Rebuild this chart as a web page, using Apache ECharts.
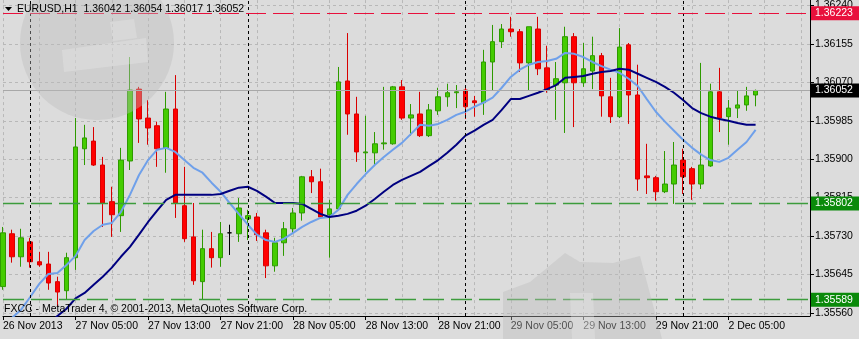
<!DOCTYPE html>
<html><head><meta charset="utf-8">
<script src="https://cdn.jsdelivr.net/npm/echarts@6/dist/echarts.min.js"></script>
<style>html,body{margin:0;padding:0;background:#dcdcdc}#c{width:859px;height:339px}</style>
</head><body><div id="c"></div>
<script>
const symbolName = 'EURUSD,H1';
const sessionDays = [['26 Nov',21,23],['27 Nov',0,23],['28 Nov',0,23],['29 Nov',0,23],['2 Dec',0,8]];
const tickLabels = ['26 Nov 2013','27 Nov 05:00','27 Nov 13:00','27 Nov 21:00','28 Nov 05:00','28 Nov 13:00',
  '28 Nov 21:00','29 Nov 05:00','29 Nov 13:00','29 Nov 21:00','2 Dec 05:00'];
const yTicks = [1.35560,1.35645,1.35730,1.35815,1.35900,1.35985,1.36070,1.36155,1.36240];

const opens = [1.35618,1.35735,1.35684,1.35717,1.35673,1.35668,1.35629,1.35609,1.35682,1.35923,
 1.35940,1.35887,1.35806,1.35775,1.35896,1.36055,1.35991,1.35974,1.35925,1.36011,
 1.35797,1.35728,1.35629,1.35702,1.35682,1.35737,1.35735,1.35768,1.35772,1.35737,
 1.35664,1.35715,1.35746,1.35781,1.35861,1.35850,1.35777,1.35790,1.36073,1.36000,
 1.35914,1.35914,1.35934,1.35934,1.36060,1.35991,1.36000,1.35952,1.36007,1.36038,
 1.36047,1.36053,1.36029,1.36025,1.36115,1.36160,1.36188,1.36182,1.36113,1.36188,
 1.36102,1.36064,1.36069,1.36171,1.36069,1.36095,1.36129,1.36038,1.35994,1.36153,
 1.36042,1.35863,1.35859,1.35828,1.35845,1.35898,1.35879,1.35845,1.35885,1.36049,
 1.35994,1.36013,1.36020,1.36042];
const closes = [1.35737,1.35684,1.35726,1.35673,1.35666,1.35626,1.35606,1.35682,1.35927,1.35947,
 1.35887,1.35803,1.35777,1.35898,1.36053,1.35989,1.35969,1.35923,1.36011,1.35803,
 1.35724,1.35631,1.35702,1.35682,1.35735,1.35737,1.35792,1.35775,1.35733,1.35664,
 1.35715,1.35746,1.35781,1.35861,1.35850,1.35772,1.35790,1.36071,1.36000,1.35916,
 1.35916,1.35934,1.35936,1.36060,1.35991,1.35998,1.35952,1.36009,1.36038,1.36047,
 1.36049,1.36016,1.36025,1.36115,1.36160,1.36188,1.36182,1.36113,1.36193,1.36100,
 1.36053,1.36078,1.36171,1.36069,1.36100,1.36129,1.36040,1.35994,1.36148,1.36042,
 1.35856,1.35859,1.35828,1.35845,1.35887,1.35861,1.35845,1.35887,1.36049,1.35991,
 1.36013,1.36020,1.36040,1.36052];
const lows = [1.35611,1.35671,1.35662,1.35660,1.35662,1.35611,1.35573,1.35589,1.35655,1.35887,
 1.35885,1.35750,1.35728,1.35739,1.35876,1.35936,1.35932,1.35883,1.35870,1.35770,
 1.35717,1.35622,1.35589,1.35660,1.35662,1.35688,1.35717,1.35721,1.35719,1.35637,
 1.35651,1.35686,1.35735,1.35764,1.35825,1.35770,1.35682,1.35788,1.35954,1.35894,
 1.35872,1.35887,1.35921,1.35932,1.35987,1.35952,1.35949,1.35949,1.35998,1.36016,
 1.36013,1.35989,1.35994,1.35998,1.36051,1.36146,1.36171,1.36093,1.36053,1.36086,
 1.36047,1.35987,1.35958,1.35971,1.36060,1.36055,1.35994,1.35980,1.35991,1.35978,
 1.35830,1.35823,1.35808,1.35825,1.35801,1.35823,1.35810,1.35834,1.35883,1.35960,
 1.35932,1.35991,1.36007,1.36017];
const highs = [1.35750,1.35744,1.35746,1.35726,1.35695,1.35695,1.35640,1.35693,1.35991,1.35976,
 1.35971,1.35905,1.35839,1.35925,1.36126,1.36060,1.36031,1.35983,1.36049,1.36086,
 1.35883,1.35803,1.35744,1.35739,1.35761,1.35755,1.35814,1.35788,1.35781,1.35744,
 1.35726,1.35761,1.35792,1.35863,1.35876,1.35879,1.35810,1.36104,1.36179,1.36038,
 1.35996,1.35960,1.36060,1.36062,1.36075,1.36022,1.36049,1.36022,1.36058,1.36067,
 1.36064,1.36064,1.36040,1.36142,1.36197,1.36199,1.36215,1.36188,1.36193,1.36215,
 1.36151,1.36115,1.36193,1.36179,1.36157,1.36171,1.36135,1.36080,1.36190,1.36157,
 1.36109,1.35934,1.35863,1.35918,1.35938,1.35923,1.35883,1.36113,1.36067,1.36102,
 1.36031,1.36053,1.36060,1.36054];
const maFast = [1.35520,1.35549,1.35567,1.35595,1.35624,1.35646,1.35648,1.35666,1.35686,1.35721,
 1.35741,1.35755,1.35759,1.35783,1.35821,1.35865,1.35898,1.35921,1.35925,1.35916,
 1.35898,1.35881,1.35870,1.35848,1.35828,1.35803,1.35779,1.35755,1.35733,1.35721,
 1.35717,1.35724,1.35737,1.35750,1.35761,1.35770,1.35772,1.35788,1.35821,1.35845,
 1.35867,1.35887,1.35905,1.35921,1.35936,1.35956,1.35976,1.35974,1.35978,1.35987,
 1.35998,1.36005,1.36016,1.36025,1.36036,1.36058,1.36082,1.36098,1.36109,1.36115,
 1.36117,1.36122,1.36135,1.36133,1.36126,1.36115,1.36106,1.36098,1.36091,1.36078,
 1.36062,1.36033,1.36005,1.35983,1.35963,1.35943,1.35925,1.35910,1.35898,1.35894,
 1.35903,1.35921,1.35938,1.35965];
const maSlow = [1.35478,1.35489,1.35500,1.35511,1.35522,1.35534,1.35553,1.35569,1.35592,1.35604,
 1.35622,1.35640,1.35660,1.35684,1.35706,1.35733,1.35761,1.35786,1.35810,1.35821,
 1.35821,1.35821,1.35821,1.35821,1.35823,1.35830,1.35837,1.35839,1.35830,1.35817,
 1.35803,1.35803,1.35803,1.35801,1.35790,1.35779,1.35772,1.35775,1.35779,1.35786,
 1.35797,1.35812,1.35828,1.35843,1.35854,1.35863,1.35872,1.35885,1.35898,1.35914,
 1.35932,1.35952,1.35963,1.35976,1.35987,1.36009,1.36033,1.36033,1.36040,1.36047,
 1.36055,1.36064,1.36080,1.36082,1.36084,1.36089,1.36093,1.36095,1.36100,1.36098,
 1.36089,1.36080,1.36071,1.36060,1.36047,1.36031,1.36013,1.36002,1.35994,1.35989,
 1.35985,1.35980,1.35976,1.35976];
const levelRed = 1.36223;
const levelsGreen = [1.35802, 1.35589];
const bidPrice = closes[closes.length - 1];
const emptyBars = 6;

// categories (hourly bars)
const cats = [];
sessionDays.forEach(([d, h0, h1]) => {
  for (let h = h0; h <= h1; h++) cats.push(d + ' ' + String(h).padStart(2, '0') + ':00');
});
for (let i = 0; i < emptyBars; i++) cats.push('pad' + i);
const separators = [];
cats.forEach((c, i) => { if (c.endsWith(' 00:00')) separators.push(i); });

const candleData = opens.map((o, i) => [o, closes[i], lows[i], highs[i]]);
const n = opens.length;
const last = n - 1;
const header = symbolName + '  ' + [opens[last], highs[last], lows[last], closes[last]].map(v => v.toFixed(5)).join(' ');

const FONT = 'Liberation Sans';
const chart = echarts.init(document.getElementById('c'), null, {renderer: 'canvas'});
const lvlLabel = (bg) => ({show: true, position: 'end', distance: 1, formatter: p => Number(p.value).toFixed(5),
  color: '#fff', backgroundColor: bg, padding: [2, 8, 1, 4], fontSize: 10.5, fontFamily: FONT});

chart.setOption({
  animation: false,
  backgroundColor: '#dcdcdc',
  grid: {left: 0, right: 49, top: 0, bottom: 23, containLabel: false},
  xAxis: {
    type: 'category', data: cats, boundaryGap: false,
    axisLine: {show: true, lineStyle: {color: '#000', width: 1}},
    axisTick: {show: true, length: 4, lineStyle: {color: '#000'},
      interval: (i) => i % 8 === 0 && i / 8 < tickLabels.length},
    axisLabel: {show: true, align: 'left', margin: 5, color: '#000', fontSize: 10.5, fontFamily: FONT,
      interval: (i) => i % 8 === 0 && i / 8 < tickLabels.length,
      formatter: (v, i) => (i % 8 === 0 && tickLabels[i / 8]) ? tickLabels[i / 8] : ''},
    splitLine: {show: true, interval: (i) => i % 4 === 0, lineStyle: {color: '#b8b8b8', type: [3, 3], width: 1}}
  },
  yAxis: {
    type: 'value', position: 'right', min: 1.35553, max: 1.36252, scale: true,
    axisLine: {show: true, lineStyle: {color: '#000', width: 1}},
    axisTick: {show: true, length: 4, customValues: yTicks, lineStyle: {color: '#000'}},
    axisLabel: {show: true, customValues: yTicks, margin: 5, color: '#000', fontSize: 10.5, fontFamily: FONT,
      formatter: v => v.toFixed(5)},
    splitLine: {show: true, lineStyle: {color: '#b8b8b8', type: [3, 3], width: 1}}
  },
  series: [
    {
      type: 'candlestick', data: candleData, barWidth: 5, clip: true,
      itemStyle: {color: '#44cc00', color0: '#ff0000', borderColor: '#2e9a00', borderColor0: '#d80000',
        borderColorDoji: '#000', borderWidth: 1},
      markLine: {
        silent: true, symbol: ['none', 'none'], animation: false,
        data: separators.map(i => ({xAxis: i, lineStyle: {color: '#000', type: [3, 3], width: 1}, label: {show: false}}))
      }
    },
    {type: 'line', data: maFast, showSymbol: false, symbol: 'none', clip: true,
      lineStyle: {color: '#6fa0ea', width: 2}, z: 3,
      markLine: {
        silent: true, symbol: ['none', 'none'], animation: false, precision: 5,
        data: [
          {yAxis: levelRed, lineStyle: {color: '#e8103c', type: [20, 7], width: 1}, label: lvlLabel('#e8103c')},
          {yAxis: bidPrice, lineStyle: {color: '#a8a8a8', type: 'solid', width: 1}, label: lvlLabel('#000')},
          ...levelsGreen.map(v => ({yAxis: v, lineStyle: {color: '#3c9c3c', type: [21, 7], width: 1.3}, label: lvlLabel('#0a8a0a')}))
        ]
      }},
    {type: 'line', data: maSlow, showSymbol: false, symbol: 'none', clip: true,
      lineStyle: {color: '#000080', width: 2}, z: 3}
  ],
  graphic: [
    {type: 'circle', shape: {cx: 97, cy: 43, r: 77}, style: {fill: 'rgba(188,188,188,0.4)'}, z: 100, silent: true},
    {type: 'polygon', shape: {points: [[62,50],[146,38],[148,62],[64,72]]}, style: {fill: 'rgba(240,240,240,0.3)'}, z: 101, silent: true},
    {type: 'polygon', shape: {points: [[110,22],[134,19],[137,38],[113,41]]}, style: {fill: 'rgba(240,240,240,0.3)'}, z: 101, silent: true},
    {type: 'polygon', shape: {points: [[503,339],[503,292],[530,282],[565,253],[580,262],[613,263],[640,256],[662,339]]},
      style: {fill: 'rgba(188,188,188,0.4)'}, z: 100, silent: true},
    {type: 'polygon', shape: {points: [[570,293],[593,293],[595,339],[572,339]]}, style: {fill: 'rgba(240,240,240,0.3)'}, z: 101, silent: true},
    {type: 'polygon', shape: {points: [[5,7],[12,7],[8.5,11]]}, style: {fill: '#000'}, z: 110},
    {type: 'text', x: 17, y: 9, style: {text: header, fill: '#000', font: '10.5px "' + FONT + '"', textVerticalAlign: 'middle'}, z: 110},
    {type: 'text', x: 4, y: 309, style: {text: 'FXCC - MetaTrader 4, \u00a9 2001-2013, MetaQuotes Software Corp.', fill: '#000',
      font: '10.5px "' + FONT + '"', textVerticalAlign: 'middle'}, z: 110}
  ]
});
</script></body></html>
